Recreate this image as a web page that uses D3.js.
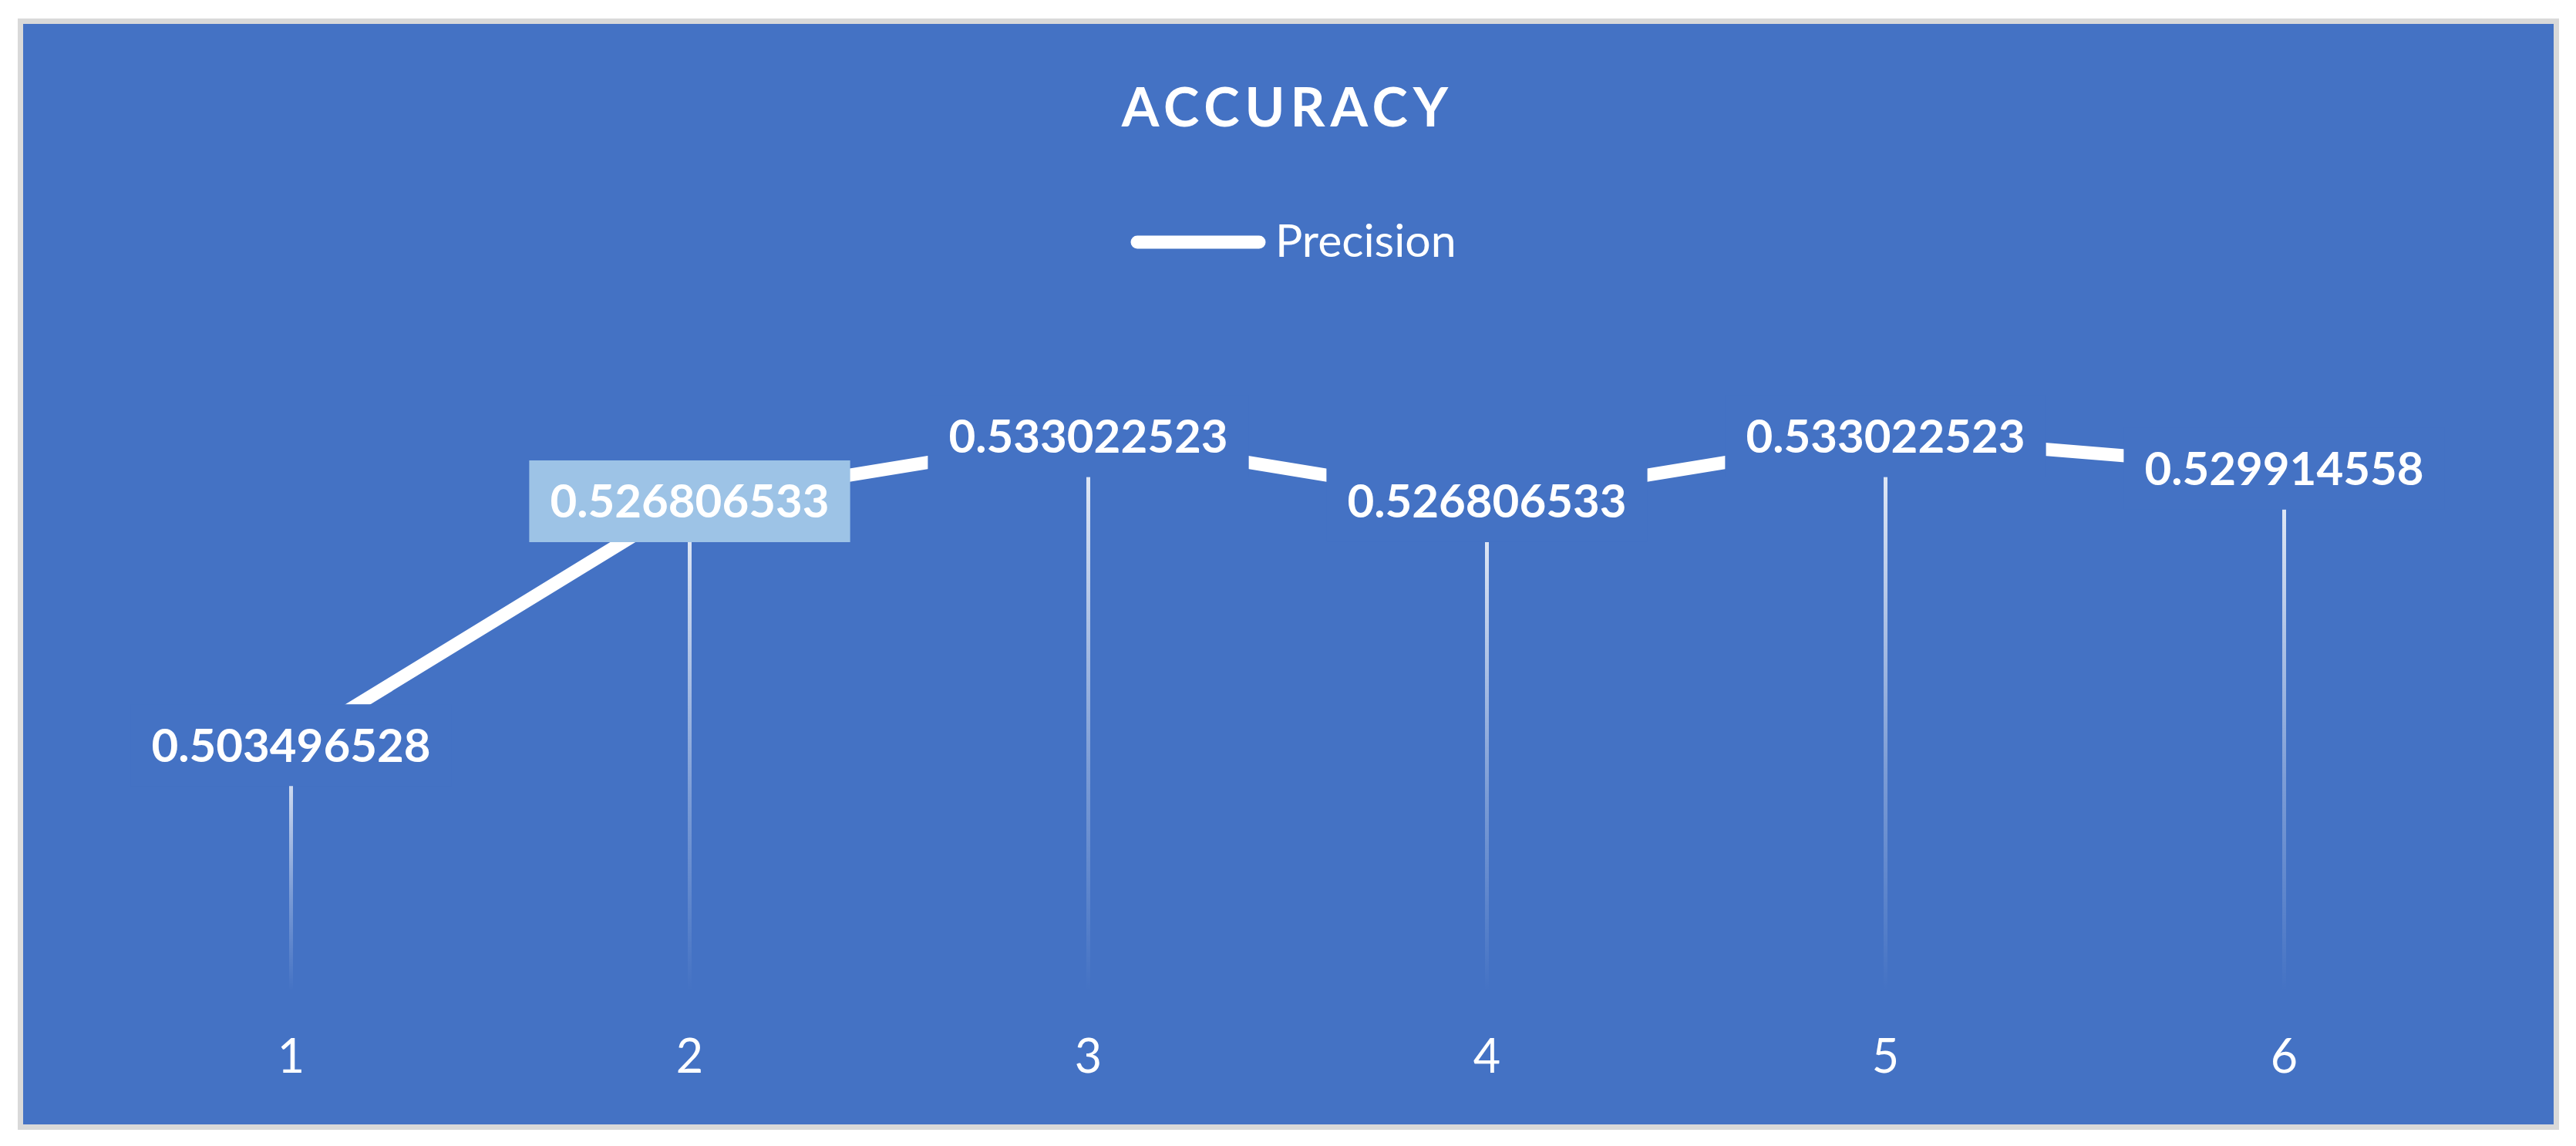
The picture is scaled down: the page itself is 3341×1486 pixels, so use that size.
<!DOCTYPE html>
<html>
<head>
<meta charset="utf-8">
<script src="https://cdn.jsdelivr.net/npm/d3@7"></script>
<style>
  body { margin: 0; background: #fff; }
  svg { display: block; }
</style>
</head>
<body>
<svg id="chart"></svg>
<script>
// chart data
const categories = ["1", "2", "3", "4", "5", "6"];
const precision = [0.503496528, 0.526806533, 0.533022523, 0.526806533, 0.533022523, 0.529914558];
const labelText = ["0.503496528", "0.526806533", "0.533022523", "0.526806533", "0.533022523", "0.529914558"];
const yDomain = [0.48, 0.54];
const highlighted = 1; // index of the label with the light box

const width = 3341, height = 1486;
const bg = "#4472C4";

const svg = d3.select("#chart")
    .attr("width", width)
    .attr("height", height)
    .style("font-family", "Lato, 'Open Sans', sans-serif");

// chart area with light grey border
svg.append("rect")
    .attr("x", 26.5).attr("y", 27.5)
    .attr("width", 3289).attr("height", 1434)
    .attr("fill", bg)
    .attr("stroke", "#D9D9D9")
    .attr("stroke-width", 7);

const x = d3.scaleBand().domain(categories).range([119, 3221]).padding(0);
const y = d3.scaleLinear().domain(yDomain).range([1285, 471]);
const cx = (d, i) => x(categories[i]) + x.bandwidth() / 2;

// gradient for drop lines
const defs = svg.append("defs");
const grad = defs.append("linearGradient")
    .attr("id", "dropGrad")
    .attr("x1", 0).attr("y1", 0).attr("x2", 0).attr("y2", 1);
grad.append("stop").attr("offset", 0).attr("stop-color", "#fff").attr("stop-opacity", 0.9);
grad.append("stop").attr("offset", 0.6).attr("stop-color", "#fff").attr("stop-opacity", 0.3);
grad.append("stop").attr("offset", 1).attr("stop-color", "#fff").attr("stop-opacity", 0);

// title
svg.append("text")
    .attr("x", 1670)
    .attr("y", 164)
    .attr("text-anchor", "middle")
    .attr("fill", "#fff")
    .attr("font-weight", 700)
    .attr("font-size", 70)
    .attr("letter-spacing", 7)
    .text("ACCURACY");

// legend
const legend = svg.append("g");
legend.append("line")
    .attr("x1", 1475).attr("x2", 1633)
    .attr("y1", 314).attr("y2", 314)
    .attr("stroke", "#fff")
    .attr("stroke-width", 17)
    .attr("stroke-linecap", "round");
legend.append("text")
    .attr("x", 1654)
    .attr("y", 333)
    .attr("fill", "#fff")
    .attr("font-size", 59)
    .text("Precision");

// drop lines
svg.append("g")
    .selectAll("rect")
    .data(precision)
    .join("rect")
    .attr("x", (d, i) => cx(d, i) - 2.5)
    .attr("width", 5)
    .attr("y", d => y(d))
    .attr("height", d => y(yDomain[0]) - y(d))
    .attr("fill", "url(#dropGrad)");

// series line
const line = d3.line()
    .x((d, i) => cx(d, i))
    .y(d => y(d));

svg.append("path")
    .datum(precision)
    .attr("d", line)
    .attr("fill", "none")
    .attr("stroke", "#fff")
    .attr("stroke-width", 17);

// data labels (boxes hide the line around each point)
const labels = svg.append("g")
    .selectAll("g")
    .data(precision)
    .join("g")
    .attr("transform", (d, i) => `translate(${cx(d, i)},${y(d)})`);

const boxes = labels.append("rect")
    .attr("fill", (d, i) => i === highlighted ? "#9DC3E6" : bg);

const texts = labels.append("text")
    .attr("text-anchor", "middle")
    .attr("y", 21.5)
    .attr("fill", "#fff")
    .attr("font-weight", 700)
    .attr("font-size", 60)
    .text((d, i) => labelText[i]);

texts.each(function (d, i) {
    const w = this.getComputedTextLength();
    d3.select(boxes.nodes()[i])
        .attr("x", -w / 2 - 27)
        .attr("width", w + 54)
        .attr("y", -53)
        .attr("height", 106);
});

// category axis
const axis = svg.append("g")
    .attr("transform", `translate(0,${y(yDomain[0])})`)
    .call(d3.axisBottom(x).tickSize(0).tickPadding(63));
axis.select(".domain").remove();
axis.selectAll("text")
    .attr("fill", "#fff")
    .attr("font-size", 61)
    .attr("font-family", "Lato, 'Open Sans', sans-serif");
</script>
</body>
</html>
